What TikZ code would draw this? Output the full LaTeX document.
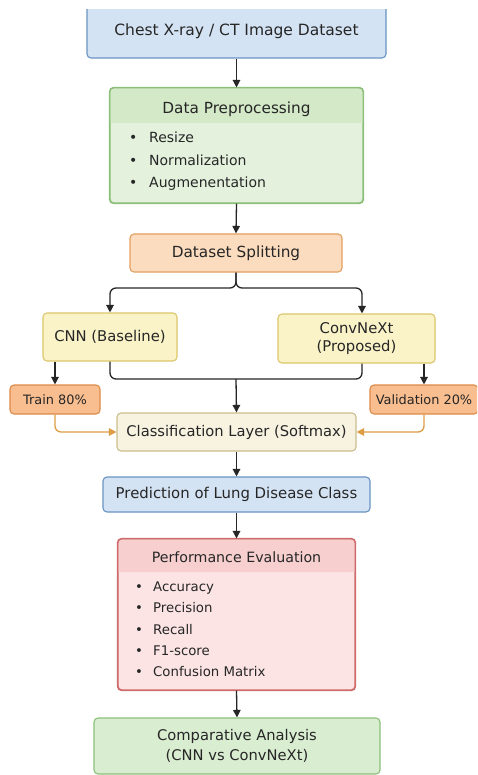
\documentclass[tikz,border=0pt]{standalone}
\usepackage{fontspec}
\setmainfont{DejaVu Sans}
\usetikzlibrary{arrows.meta}

\definecolor{txt}{HTML}{262626}
\definecolor{ink}{HTML}{262626}
\definecolor{bluefill}{HTML}{D4E3F3}
\definecolor{blueline}{HTML}{6A93C4}
\definecolor{greenfill}{HTML}{E4F1DD}
\definecolor{greenhdr}{HTML}{D3E9C8}
\definecolor{greenline}{HTML}{8CC07A}
\definecolor{compfill}{HTML}{D9EDD1}
\definecolor{splitfill}{HTML}{FCDCBF}
\definecolor{splitline}{HTML}{E2A060}
\definecolor{tvfill}{HTML}{F9BE8F}
\definecolor{tvline}{HTML}{DC8B48}
\definecolor{yelfill}{HTML}{FAF3C8}
\definecolor{yelline}{HTML}{DCC76A}
\definecolor{clsfill}{HTML}{F8F3E1}
\definecolor{clsline}{HTML}{CBBD8C}
\definecolor{redfill}{HTML}{FCE4E4}
\definecolor{redhdr}{HTML}{F7CFCF}
\definecolor{redline}{HTML}{CF6A6A}
\definecolor{orangeline}{HTML}{DD9D45}

\tikzset{
  box/.style={draw, rounded corners=4pt, line width=1.1pt, inner sep=0pt,
    align=center, text=txt, font=\fontsize{15}{18}\selectfont},
  bluebox/.style={box, fill=bluefill, draw=blueline},
  greenbox/.style={box, fill=greenfill, draw=greenline},
  compbox/.style={box, fill=compfill, draw=greenline, font=\fontsize{14.7}{20}\selectfont},
  splitbox/.style={box, fill=splitfill, draw=splitline, font=\fontsize{15.3}{18}\selectfont},
  tvbox/.style={box, fill=tvfill, draw=tvline, font=\fontsize{12.9}{15}\selectfont},
  yelbox/.style={box, fill=yelfill, draw=yelline, font=\fontsize{14.8}{18}\selectfont},
  clsbox/.style={box, fill=clsfill, draw=clsline, font=\fontsize{14.7}{18}\selectfont},
  redbox/.style={box, fill=redfill, draw=redline},
  title/.style={anchor=base, inner sep=0pt, text=txt},
  item/.style={anchor=base west, inner sep=0pt, text=txt},
  arr/.style={draw=ink, line width=1.3pt, -{Triangle[length=7.5pt,width=7.5pt]}},
  link/.style={draw=ink, line width=1.3pt},
  oarr/.style={draw=orangeline, line width=1.3pt, -{Triangle[length=7.5pt,width=7.5pt]}},
}

\begin{document}
\begin{tikzpicture}[x=1pt,y=-1pt]
\useasboundingbox (0,0) rectangle (477,775);
\fill[white] (0,0) rectangle (477,775);
\clip (0,0) rectangle (477,775);

% source dataset, its top edge runs off the page
\begin{scope}
  \clip (0,10) rectangle (477,775);
  \node[bluebox, minimum width=299pt, minimum height=54pt, font=\fontsize{15.5}{18}\selectfont] (chest) at (236.5,31)
    {Chest X-ray / CT Image Dataset};
\end{scope}

% preprocessing panel with header band
\node[greenbox, minimum width=253pt, minimum height=115pt] (prep) at (236.5,145.5) {};
\fill[greenhdr, rounded corners=3.4pt] (110.6,123) -- (110.6,88.6) -- (362.4,88.6) -- (362.4,123);
\draw[greenline, line width=1.1pt, rounded corners=4pt] (prep.north west) rectangle (prep.south east);
\node[title, font=\fontsize{15.3}{18}\selectfont] (preptitle) at (236.5,113.5) {Data Preprocessing};
\begin{scope}[font=\fontsize{14}{17}\selectfont]
  \node[item] (pb1) at (129,143) {•};
  \node[item] (pi1) at (149,143) {Resize};
  \node[item] (pb2) at (129,166) {•};
  \node[item] (pi2) at (149,166) {Normalization};
  \node[item] (pb3) at (129,188) {•};
  \node[item] (pi3) at (149,188) {Augmenentation};
\end{scope}

\node[splitbox, minimum width=212pt, minimum height=38pt] (split) at (236,253) {Dataset Splitting};

\node[yelbox, minimum width=134pt, minimum height=48pt] (cnn) at (110,337) {CNN (Baseline)};
\node[yelbox, minimum width=157pt, minimum height=49pt] (conv) at (356.5,338.5) {ConvNeXt\\(Proposed)};

\node[tvbox, minimum width=90pt, minimum height=29pt] (train) at (55,399.5) {Train 80\%};
\node[tvbox, minimum width=108pt, minimum height=29pt] (val) at (424,399.5) {Validation 20\%};

\node[clsbox, minimum width=239pt, minimum height=38pt] (cls) at (236.5,432) {Classification Layer (Softmax)};

\node[bluebox, minimum width=267pt, minimum height=35pt, font=\fontsize{14.9}{18}\selectfont] (pred) at (236.5,494.5)
  {Prediction of Lung Disease Class};

% evaluation panel with header band
\node[redbox, minimum width=237pt, minimum height=151pt] (perf) at (236.5,614.5) {};
\fill[redhdr, rounded corners=3.4pt] (118.6,572) -- (118.6,539.6) -- (354.4,539.6) -- (354.4,572);
\draw[redline, line width=1.1pt, rounded corners=4pt] (perf.north west) rectangle (perf.south east);
\node[title, font=\fontsize{14.2}{17}\selectfont] (perftitle) at (236.5,562) {Performance Evaluation};
\begin{scope}[font=\fontsize{13.3}{16}\selectfont]
  \node[item] (eb1) at (135,591) {•};
  \node[item] (ei1) at (153,591) {Accuracy};
  \node[item] (eb2) at (135,612) {•};
  \node[item] (ei2) at (153,612) {Precision};
  \node[item] (eb3) at (135,634) {•};
  \node[item] (ei3) at (153,634) {Recall};
  \node[item] (eb4) at (135,655) {•};
  \node[item] (ei4) at (153,655) {F1-score};
  \node[item] (eb5) at (135,676.5) {•};
  \node[item] (ei5) at (153,676.5) {Confusion Matrix};
\end{scope}

\node[compbox, minimum width=286pt, minimum height=56pt] (comp) at (237,746)
  {Comparative Analysis\\(CNN vs ConvNeXt)};

% connectors
\coordinate (fork) at (236,288);
\coordinate (join) at (236,379);
\draw[arr] (chest.south) -- (prep.north);
\draw[arr] (prep.south) -- (split.north);
\draw[arr, rounded corners=6pt] (split.south) -- (fork) -| (cnn.north);
\draw[arr, rounded corners=6pt] (split.south) -- (fork) -| ([xshift=5.5pt]conv.north);
\draw[link, rounded corners=6pt] (cnn.south) |- (join) -| ([xshift=5.5pt]conv.south);
\draw[arr] (join) -- (cls.north);
\draw[arr] (cnn.south -| train.north) -- (train.north);
\draw[arr] (conv.south -| val.north) -- (val.north);
\draw[oarr, rounded corners=6pt] (train.south) |- (cls.west);
\draw[oarr, rounded corners=6pt] (val.south) |- (cls.east);
\draw[arr] (cls.south) -- (pred.north);
\draw[arr] (pred.south) -- (perf.north);
\draw[arr] (perf.south) -- (comp.north);
\end{tikzpicture}
\end{document}
